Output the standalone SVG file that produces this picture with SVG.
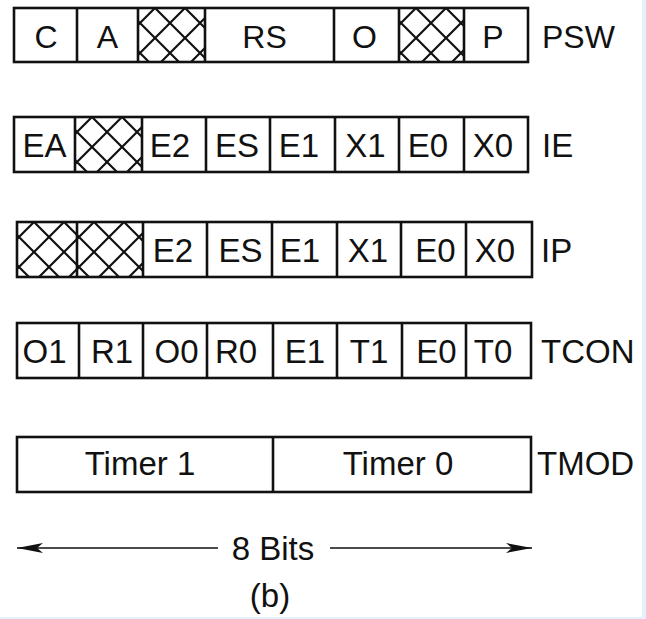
<svg xmlns="http://www.w3.org/2000/svg" width="646" height="619" viewBox="0 0 646 619">
  <style>
    text { font-family: "Liberation Sans", Arial, Helvetica, sans-serif; fill: #111; }
    .c { text-anchor: middle; }
    .lbl { text-anchor: start; }
    .s32 { font-size: 32px; }
    .s33 { font-size: 33px; }
    .box { fill: none; stroke: #111; stroke-width: 2.6; }
    .div { fill: none; stroke: #111; stroke-width: 2.6; }
    .hx { fill: url(#hatch); }
    .dim { stroke: #111; stroke-width: 1.6; fill: none; marker-end: url(#arrow); }
  </style>
  <defs>
    <!-- cross-hatch for reserved bits -->
    <pattern id="hatch" patternUnits="userSpaceOnUse" x="17" y="0" width="30" height="30">
      <path d="M-5,-5L35,35M35,-5L-5,35M-5,25L5,35M25,-5L35,5M-5,5L5,-5M25,35L35,25" stroke="#111" stroke-width="2.2" fill="none"/>
    </pattern>
    <marker id="arrow" viewBox="0 0 26 10" refX="26" refY="5" markerWidth="26" markerHeight="10" markerUnits="userSpaceOnUse" orient="auto">
      <path d="M0,0L26,5L0,10L6,5Z" fill="#111"/>
    </marker>
  </defs>

  <rect width="646" height="619" fill="#fff"/>
  <!-- pale edge bands -->
  <rect x="642" y="0" width="4" height="619" fill="#e4f2fb"/>
  <rect x="0" y="617" width="646" height="2" fill="#e4f2fb"/>

  <!-- PSW -->
  <g id="reg-psw">
    <g transform="translate(138,8)"><rect class="hx" width="67" height="54"/></g>
    <g transform="translate(399,8)"><rect class="hx" width="65" height="54"/></g>
    <rect class="box" x="14" y="8" width="514" height="54"/>
    <path class="div" d="M77,8V62M138,8V62M205,8V62M334,8V62M399,8V62M464,8V62"/>
    <text class="c s32" x="46" y="48">C</text>
    <text class="c s32" x="107.5" y="48">A</text>
    <text class="c s32" x="264.5" y="48">RS</text>
    <text class="c s32" x="364.5" y="48">O</text>
    <text class="c s32" x="493" y="48">P</text>
    <text class="lbl s32" x="542" y="48">PSW</text>
  </g>

  <!-- IE -->
  <g id="reg-ie">
    <g transform="translate(75,117)"><rect class="hx" width="67" height="55"/></g>
    <rect class="box" x="14" y="117" width="514" height="55"/>
    <path class="div" d="M75,117V172M142,117V172M206,117V172M270,117V172M335,117V172M399,117V172M464,117V172"/>
    <text class="c s33" x="44.5" y="157">EA</text>
    <text class="c s33" x="170" y="157">E2</text>
    <text class="c s33" x="237" y="157">ES</text>
    <text class="c s33" x="299" y="157">E1</text>
    <text class="c s33" x="365.5" y="157">X1</text>
    <text class="c s33" x="428" y="157">E0</text>
    <text class="c s33" x="493" y="157">X0</text>
    <text class="lbl s33" x="542" y="157">IE</text>
  </g>

  <!-- IP -->
  <g id="reg-ip">
    <g transform="translate(17,222)"><rect class="hx" width="60" height="55"/></g>
    <g transform="translate(77,222)"><rect class="hx" width="66" height="55"/></g>
    <rect class="box" x="17" y="222" width="515" height="55"/>
    <path class="div" d="M77,222V277M143,222V277M207,222V277M272,222V277M337,222V277M401,222V277M466,222V277"/>
    <text class="c s33" x="173" y="262">E2</text>
    <text class="c s33" x="240.5" y="262">ES</text>
    <text class="c s33" x="300" y="262">E1</text>
    <text class="c s33" x="368" y="262">X1</text>
    <text class="c s33" x="435.5" y="262">E0</text>
    <text class="c s33" x="495" y="262">X0</text>
    <text class="lbl s33" x="541" y="262">IP</text>
  </g>

  <!-- TCON -->
  <g id="reg-tcon">
    <rect class="box" x="17" y="323" width="514" height="55"/>
    <path class="div" d="M79,323V378M143,323V378M207,323V378M273,323V378M337,323V378M402,323V378M466,323V378"/>
    <text class="c s33" x="44.5" y="363">O1</text>
    <text class="c s33" x="112" y="363">R1</text>
    <text class="c s33" x="176.5" y="363">O0</text>
    <text class="c s33" x="236" y="363">R0</text>
    <text class="c s33" x="305" y="363">E1</text>
    <text class="c s33" x="369" y="363">T1</text>
    <text class="c s33" x="436.5" y="363">E0</text>
    <text class="c s33" x="493" y="363">T0</text>
    <text class="lbl s33" x="541" y="363">TCON</text>
  </g>

  <!-- TMOD -->
  <g id="reg-tmod">
    <rect class="box" x="17" y="437" width="514" height="55"/>
    <path class="div" d="M273,437V492"/>
    <text class="c s33" x="140" y="475">Timer 1</text>
    <text class="c s33" x="398" y="475">Timer 0</text>
    <text class="lbl s33" x="537" y="475">TMOD</text>
  </g>

  <!-- width dimension -->
  <g id="connectors">
    <line class="dim" x1="218" y1="548" x2="17" y2="548"/>
    <line class="dim" x1="330" y1="548" x2="532" y2="548"/>
  </g>
  <g id="dim-label">
    <text class="c s33" x="273" y="560">8 Bits</text>
  </g>
  <g id="caption">
    <text class="c s33" x="270" y="607">(b)</text>
  </g>
</svg>
